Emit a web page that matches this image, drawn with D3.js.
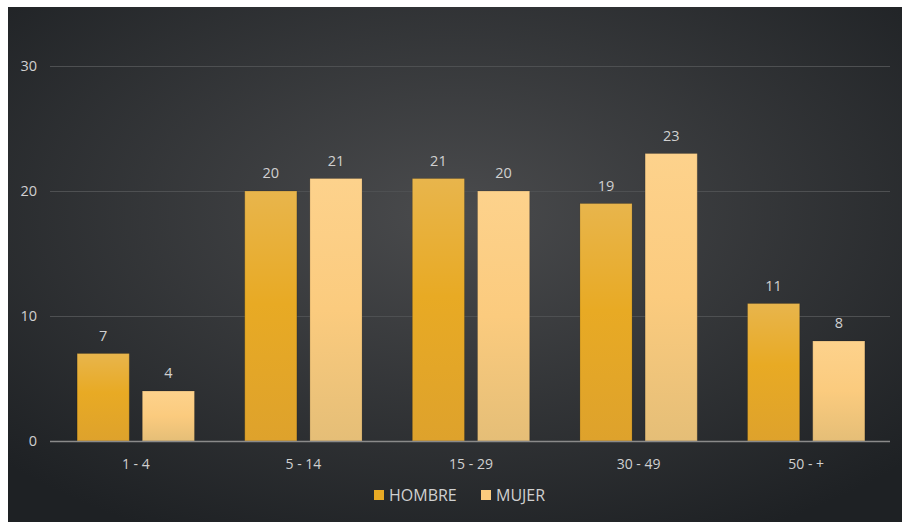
<!DOCTYPE html>
<html>
<head>
<meta charset="utf-8">
<script src="https://cdn.jsdelivr.net/npm/d3@7"></script>
<style>
  html, body { margin: 0; padding: 0; background: #fff; }
  svg { display: block; }
</style>
</head>
<body>
<div id="container"></div>
<script>
const categories = ["1 - 4", "5 - 14", "15 - 29", "30 - 49", "50 - +"];
const series = ["HOMBRE", "MUJER"];
const hombre = [7, 20, 21, 19, 11];
const mujer = [4, 21, 20, 23, 8];
const yTicks = [0, 10, 20, 30];

const width = 902, height = 522;
const margin = {left: 52, right: 12, top: 66, bottom: 81};

const svg = d3.select("#container").append("svg")
    .attr("width", width)
    .attr("height", height)
    .style("font-family", "'Open Sans', 'Noto Sans', sans-serif");

const defs = svg.append("defs");

// background: dark with lighter centre
const bg = defs.append("radialGradient")
    .attr("id", "bg")
    .attr("cx", "50%").attr("cy", "40%").attr("r", "70%");
bg.append("stop").attr("offset", "0%").attr("stop-color", "#4a4b4d");
bg.append("stop").attr("offset", "100%").attr("stop-color", "#1e2124");

const gH = defs.append("linearGradient").attr("id", "gH").attr("x1", 0).attr("y1", 0).attr("x2", 0).attr("y2", 1);
gH.append("stop").attr("offset", "0%").attr("stop-color", "#e8b54c");
gH.append("stop").attr("offset", "45%").attr("stop-color", "#e8aa24");
gH.append("stop").attr("offset", "100%").attr("stop-color", "#dea22c");

const gM = defs.append("linearGradient").attr("id", "gM").attr("x1", 0).attr("y1", 0).attr("x2", 0).attr("y2", 1);
gM.append("stop").attr("offset", "0%").attr("stop-color", "#fdd28c");
gM.append("stop").attr("offset", "50%").attr("stop-color", "#fbcb7e");
gM.append("stop").attr("offset", "100%").attr("stop-color", "#e5be77");

svg.append("rect")
    .attr("x", 8).attr("y", 7)
    .attr("width", width - 8).attr("height", height - 7)
    .attr("fill", "url(#bg)");

const x0 = d3.scaleBand()
    .domain(categories)
    .range([margin.left, width - margin.right])
    .paddingInner(0.3)
    .paddingOuter(0.15);

const x1 = d3.scaleBand()
    .domain(series)
    .range([0, x0.bandwidth()])
    .paddingInner(0.2);

const y = d3.scaleLinear()
    .domain([0, 30])
    .range([height - margin.bottom, margin.top]);

const color = {HOMBRE: "url(#gH)", MUJER: "url(#gM)"};
const legendColor = {HOMBRE: "#e8aa24", MUJER: "#fbcb7e"};

// gridlines
svg.append("g")
    .selectAll("line")
    .data(yTicks.slice(1))
    .join("line")
    .attr("x1", margin.left - 2)
    .attr("x2", width - margin.right)
    .attr("y1", d => y(d) + 0.5)
    .attr("y2", d => y(d) + 0.5)
    .attr("stroke", "#4e5052")
    .attr("stroke-width", 1);

// y tick labels
svg.append("g")
    .selectAll("text")
    .data(yTicks)
    .join("text")
    .attr("x", 37)
    .attr("y", d => y(d))
    .attr("dy", "0.35em")
    .attr("text-anchor", "end")
    .attr("fill", "#d0d0d0")
    .attr("font-size", 14.5)
    .text(d => d);

const rows = categories.map((c, i) => ({cat: c, values: [
    {key: "HOMBRE", value: hombre[i]},
    {key: "MUJER", value: mujer[i]}
]}));

const groups = svg.append("g")
    .selectAll("g")
    .data(rows)
    .join("g")
    .attr("transform", d => `translate(${x0(d.cat)},0)`);

groups.selectAll("rect")
    .data(d => d.values)
    .join("rect")
    .attr("x", d => x1(d.key))
    .attr("y", d => y(d.value))
    .attr("width", x1.bandwidth())
    .attr("height", d => y(0) - y(d.value))
    .attr("fill", d => color[d.key])
    .attr("stroke", "rgba(0,0,0,0.15)")
    .attr("stroke-width", 1);

groups.selectAll("text")
    .data(d => d.values)
    .join("text")
    .attr("x", d => x1(d.key) + x1.bandwidth() / 2)
    .attr("y", d => y(d.value) - 13)
    .attr("text-anchor", "middle")
    .attr("fill", "#d0d0d0")
    .attr("font-size", 14.5)
    .text(d => d.value);

// axis line
svg.append("line")
    .attr("x1", margin.left - 2)
    .attr("x2", width - margin.right)
    .attr("y1", y(0) + 0.5)
    .attr("y2", y(0) + 0.5)
    .attr("stroke", "#8a8a8a")
    .attr("stroke-width", 1.5);

// category labels
svg.append("g")
    .selectAll("text")
    .data(categories)
    .join("text")
    .attr("x", d => x0(d) + x0.bandwidth() / 2)
    .attr("y", y(0) + 28)
    .attr("text-anchor", "middle")
    .attr("fill", "#d0d0d0")
    .attr("font-size", 14)
    .text(d => d);

// legend
const legend = svg.append("g").attr("transform", "translate(374,495)");
const legendX = [0, 107];
series.forEach((s, i) => {
    const g = legend.append("g").attr("transform", `translate(${legendX[i]},0)`);
    g.append("rect")
        .attr("x", 0).attr("y", -5)
        .attr("width", 10).attr("height", 10)
        .attr("fill", legendColor[s]);
    g.append("text")
        .attr("x", 15)
        .attr("y", 0)
        .attr("dy", "0.35em")
        .attr("fill", "#d0d0d0")
        .attr("font-size", 16)
        .text(s);
});
</script>
</body>
</html>
